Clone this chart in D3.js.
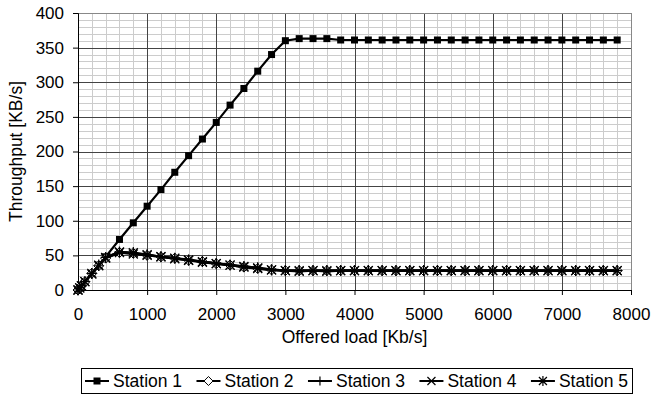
<!DOCTYPE html>
<html>
<head>
<meta charset="utf-8">
<script src="https://cdn.jsdelivr.net/npm/d3@7"></script>
<style>
  body { margin: 0; background: #fff; }
  svg { font-family: "Liberation Sans", Arial, sans-serif; }
</style>
</head>
<body>
<div id="chart"></div>
<script>
// offered load values (Kb/s)
const loads = [0, 25, 50, 100, 200, 300, 400, 600, 800, 1000, 1200, 1400, 1600, 1800, 2000,
  2200, 2400, 2600, 2800, 3000, 3200, 3400, 3600, 3800, 4000, 4200, 4400, 4600, 4800,
  5000, 5200, 5400, 5600, 5800, 6000, 6200, 6400, 6600, 6800, 7000, 7200, 7400, 7600, 7800];

const station1 = [0, 3, 6, 12, 24, 36, 48, 73, 97, 121, 145, 170, 194, 218, 242,
  267, 291, 316, 340, 360, 363, 363, 363, 361, 361, 361, 361, 361, 361,
  361, 361, 361, 361, 361, 361, 361, 361, 361, 361, 361, 361, 361, 361, 361];
const station2 = [0, 3, 6, 12, 24, 35, 46, 54, 53, 50, 48, 46, 43, 41, 38,
  36, 33, 31, 29, 28, 28, 28, 28, 28, 28, 28, 28, 28, 28,
  28, 28, 28, 28, 28, 28, 28, 28, 28, 28, 28, 28, 28, 28, 28];
const station3 = [0, 3, 6, 12, 24, 35, 47, 55, 53, 51, 48, 46, 44, 41, 39,
  36, 34, 32, 30, 28, 28, 28, 28, 28, 28, 28, 28, 28, 28,
  28, 28, 28, 28, 28, 28, 28, 28, 28, 28, 28, 28, 28, 28, 28];
const station4 = [0, 3, 6, 12, 23, 35, 46, 54, 52, 50, 48, 45, 43, 40, 38,
  36, 33, 31, 29, 28, 27, 28, 27, 28, 28, 28, 28, 28, 28,
  28, 28, 28, 28, 28, 28, 28, 28, 28, 28, 28, 28, 28, 28, 28];
const station5 = [0, 3, 6, 12, 24, 36, 47, 55, 54, 51, 48, 46, 43, 41, 38,
  36, 34, 32, 29, 28, 28, 28, 28, 28, 28, 28, 28, 28, 28,
  28, 28, 28, 28, 28, 28, 28, 28, 28, 28, 28, 28, 28, 28, 28];

const seriesNames = ["Station 1", "Station 2", "Station 3", "Station 4", "Station 5"];
const seriesValues = [station1, station2, station3, station4, station5];
const markerTypes = ["square", "diamond", "plus", "cross", "star"];

const xTicks = [0, 1000, 2000, 3000, 4000, 5000, 6000, 7000, 8000];
const yTicks = [0, 50, 100, 150, 200, 250, 300, 350, 400];

const width = 651, height = 399;
const margin = { top: 13, right: 20, bottom: 109, left: 78 };
const innerW = 631 - margin.left;
const innerH = 290 - margin.top;
const fontSize = 17;

const svg = d3.select("#chart").append("svg")
  .attr("width", width).attr("height", height);

const x = d3.scaleLinear().domain([0, 8000]).range([0, innerW]);
const y = d3.scaleLinear().domain([0, 400]).range([innerH, 0]);

const g = svg.append("g").attr("transform", `translate(${margin.left},${margin.top})`);

// minor grid
const minorX = d3.range(0, 8001, 200).filter(v => v % 1000 !== 0);
const minorY = d3.range(0, 401, 10).filter(v => v % 50 !== 0);
g.append("g").selectAll("line").data(minorX).enter().append("line")
  .attr("x1", d => Math.round(x(d)) + 0.5).attr("x2", d => Math.round(x(d)) + 0.5)
  .attr("y1", 0).attr("y2", innerH)
  .attr("stroke", "#cccccc").attr("stroke-width", 1);
g.append("g").selectAll("line").data(minorY).enter().append("line")
  .attr("y1", d => Math.round(y(d)) + 0.5).attr("y2", d => Math.round(y(d)) + 0.5)
  .attr("x1", 0).attr("x2", innerW)
  .attr("stroke", "#cccccc").attr("stroke-width", 1);

// major grid
g.append("g").selectAll("line").data(xTicks.slice(1, -1)).enter().append("line")
  .attr("x1", d => Math.round(x(d)) + 0.5).attr("x2", d => Math.round(x(d)) + 0.5)
  .attr("y1", 0).attr("y2", innerH)
  .attr("stroke", "#444").attr("stroke-width", 1);
g.append("g").selectAll("line").data(yTicks.slice(1, -1)).enter().append("line")
  .attr("y1", d => Math.round(y(d)) + 0.5).attr("y2", d => Math.round(y(d)) + 0.5)
  .attr("x1", 0).attr("x2", innerW)
  .attr("stroke", "#444").attr("stroke-width", 1);

// plot border
g.append("rect").attr("x", 0.5).attr("y", 0.5)
  .attr("width", innerW).attr("height", innerH)
  .attr("fill", "none").attr("stroke", "#888");

// axes
const xAxis = g.append("g").attr("transform", `translate(0,${innerH})`)
  .call(d3.axisBottom(x).tickValues(xTicks).tickSize(5).tickPadding(13).tickFormat(d3.format("d")));
const yAxis = g.append("g")
  .call(d3.axisLeft(y).tickValues(yTicks).tickSize(5).tickPadding(9));
[xAxis, yAxis].forEach(a => {
  a.select(".domain").attr("stroke", "#000");
  a.selectAll(".tick line").attr("stroke", "#000");
  a.selectAll(".tick text").attr("font-size", fontSize).attr("fill", "#000")
    .style("font-family", "'Liberation Sans', Arial, sans-serif");
});

// axis titles
svg.append("text").attr("x", margin.left + innerW / 2).attr("y", 343)
  .attr("text-anchor", "middle").attr("font-size", 17.5).text("Offered load [Kb/s]");
svg.append("text").attr("transform", `translate(22,${margin.top + innerH / 2}) rotate(-90)`)
  .attr("text-anchor", "middle").attr("font-size", 17.5).text("Throughput [KB/s]");

// marker drawing
function drawMarker(sel, type, s) {
  if (type === "square") {
    sel.append("rect").attr("x", -s / 2).attr("y", -s / 2).attr("width", s).attr("height", s)
      .attr("fill", "#000");
  } else if (type === "diamond") {
    sel.append("path").attr("d", `M0,${-s / 2 - 1}L${s / 2 + 1},0L0,${s / 2 + 1}L${-s / 2 - 1},0Z`)
      .attr("fill", "#fff").attr("stroke", "#000").attr("stroke-width", 1);
  } else if (type === "plus") {
    sel.append("path").attr("d", `M${-s / 2 - 1},0H${s / 2 + 1}M0,${-s / 2 - 1}V${s / 2 + 1}`)
      .attr("stroke", "#000").attr("stroke-width", 1.2);
  } else if (type === "cross") {
    const r = s / 2 + 0.5;
    sel.append("path").attr("d", `M${-r},${-r}L${r},${r}M${-r},${r}L${r},${-r}`)
      .attr("stroke", "#000").attr("stroke-width", 1.2);
  } else if (type === "star") {
    const r = s / 2 + 0.5;
    sel.append("path").attr("d", `M${-r},${-r}L${r},${r}M${-r},${r}L${r},${-r}M0,${-r - 1}V${r + 1}`)
      .attr("stroke", "#000").attr("stroke-width", 1.2);
  }
}

const line = d3.line().x((d, i) => x(loads[i])).y(d => y(d));

seriesValues.forEach((vals, si) => {
  const sg = g.append("g");
  sg.append("path").datum(vals).attr("d", line)
    .attr("fill", "none").attr("stroke", "#000").attr("stroke-width", 2.2);
  vals.forEach((v, i) => {
    const m = sg.append("g").attr("transform", `translate(${x(loads[i])},${y(v)})`);
    drawMarker(m, markerTypes[si], si === 0 ? 7 : 8);
  });
});

// legend
const legend = svg.append("g");
const legX = 81, legY = 368, legW = 551, legH = 25;
legend.append("rect").attr("x", legX + 0.5).attr("y", legY + 0.5)
  .attr("width", legW).attr("height", legH)
  .attr("fill", "#fff").attr("stroke", "#000");

const items = legend.selectAll(".item").data(seriesNames).enter().append("g").attr("class", "item");
const texts = items.append("text").attr("font-size", 17.5).attr("y", legY + legH / 2 + 6.5).text(d => d);
const widths = [];
texts.each(function () { widths.push(this.getComputedTextLength()); });
const symW = 24, gap1 = 4;
const totalItems = d3.sum(widths) + seriesNames.length * (symW + gap1);
const spacing = (legW - 8 - totalItems) / (seriesNames.length - 1);
let cx = legX + 4;
items.each(function (d, i) {
  const it = d3.select(this);
  const cy = legY + legH / 2 + 0.5;
  it.append("line").attr("x1", cx).attr("x2", cx + symW).attr("y1", cy).attr("y2", cy)
    .attr("stroke", "#000").attr("stroke-width", 2);
  drawMarker(it.append("g").attr("transform", `translate(${cx + symW / 2},${cy})`), markerTypes[i], 7);
  it.select("text").attr("x", cx + symW + gap1);
  cx += symW + gap1 + widths[i] + spacing;
});
</script>
</body>
</html>
